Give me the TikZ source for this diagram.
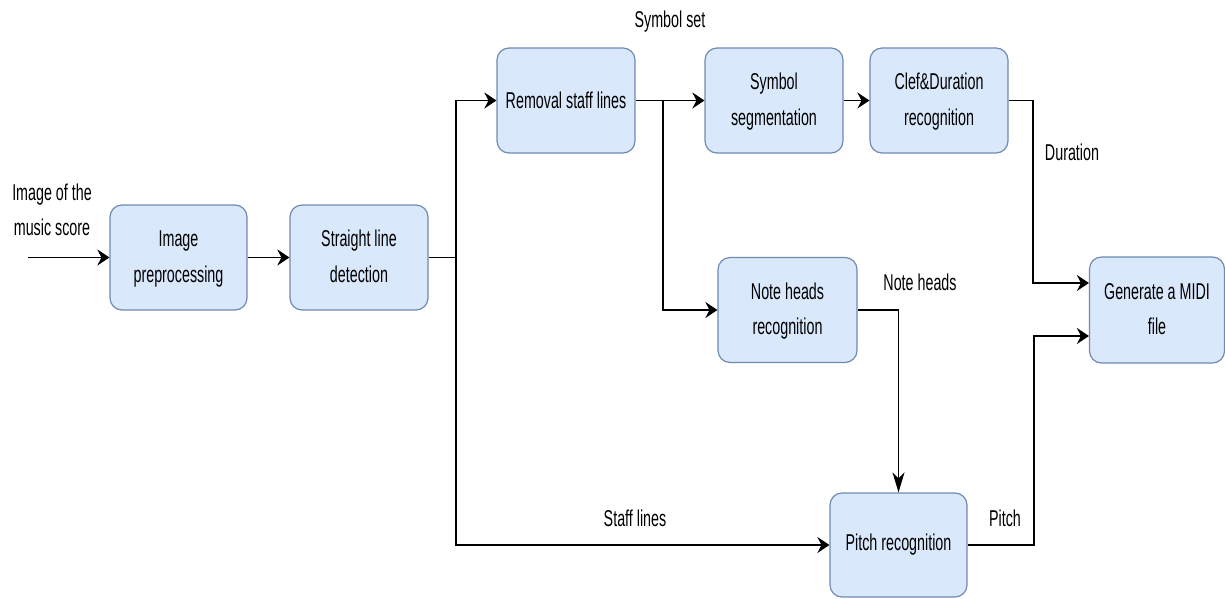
\documentclass[tikz,border=0pt]{standalone}
\usepackage{fontspec}
\setmainfont{Liberation Sans}
\usepackage{graphicx}
\usetikzlibrary{arrows.meta}
\definecolor{boxfill}{HTML}{DAE8FC}
\definecolor{boxdraw}{HTML}{6F8AB0}
\newcommand{\vt}[1]{\scalebox{1}[1.6]{#1}}
\newcommand{\two}[2]{\vt{\begin{tabular}{@{}c@{}}#1\\#2\end{tabular}}}
\begin{document}
\begin{tikzpicture}[x=1pt,y=-1pt,
  txt/.style={font=\fontsize{14.3}{22}\selectfont, inner sep=0pt, align=center},
  blk/.style={txt, draw=boxdraw, fill=boxfill, line width=1.2pt, rounded corners=12pt,
              minimum width=138pt, minimum height=105pt},
  conn/.style={line width=1.8pt, draw=black},
  harr/.style={conn, -{Stealth[length=12pt,width=16pt,inset=4pt]}},
  varr/.style={conn, -{Stealth[length=20pt,width=12pt,inset=6pt]}}
]
\useasboundingbox (0,0) rectangle (1225,598);

% boxes
\node[blk, minimum width=137pt] (pre) at (178.5,257.5) {\two{Image}{preprocessing}};
\node[blk] (sld) at (359,257.5) {\two{Straight line}{detection}};
\node[blk] (rem) at (566,100.5) {\vt{Removal staff lines}};
\node[blk] (seg) at (774,100.5) {\two{Symbol}{segmentation}};
\node[blk] (clef) at (939,100.5) {\two{Clef\&Duration}{recognition}};
\node[blk, minimum width=139pt] (note) at (787.5,310) {\two{Note heads}{recognition}};
\node[blk, minimum width=137pt, minimum height=104pt] (pitch) at (898.5,545) {\vt{Pitch recognition}};
\node[blk, minimum width=135pt, minimum height=106pt] (midi) at (1157,310) {\two{Generate a MIDI}{file}};

% labels
\node[txt] (linput) at (52,211) {\two{Image of the}{music score}};
\node[txt] (lsym) at (670,22) {\vt{Symbol set}};
\node[txt] (ldur) at (1072,152) {\vt{Duration}};
\node[txt] (lnote) at (920,282) {\vt{Note heads}};
\node[txt] (lstaff) at (635,518) {\vt{Staff lines}};
\node[txt] (lpitch) at (1005,518) {\vt{Pitch}};

% coordinates
\coordinate (in) at (28,257.5);
\coordinate (j1) at (456,257.5);
\coordinate (j2) at (663,100.5);
\coordinate (d1) at (1033,100.5);
\coordinate (p1) at (1034,545);

% connectors
\draw[harr] (in) -- (pre.west);
\draw[harr] (pre.east) -- (sld.west);
\draw[harr] (sld.east) -- (j1) |- (rem.west);
\draw[harr] (j1) |- (pitch.west);
\draw[harr] (rem.east) -- (seg.west);
\draw[harr] (j2) |- (note.west);
\draw[harr] (seg.east) -- (clef.west);
\draw[harr] (clef.east) -- (d1) |- ([yshift=27pt]midi.west);
\draw[varr] (note.east) -| (pitch.north);
\draw[harr] (pitch.east) -- (p1) |- ([yshift=-26pt]midi.west);
\end{tikzpicture}
\end{document}
